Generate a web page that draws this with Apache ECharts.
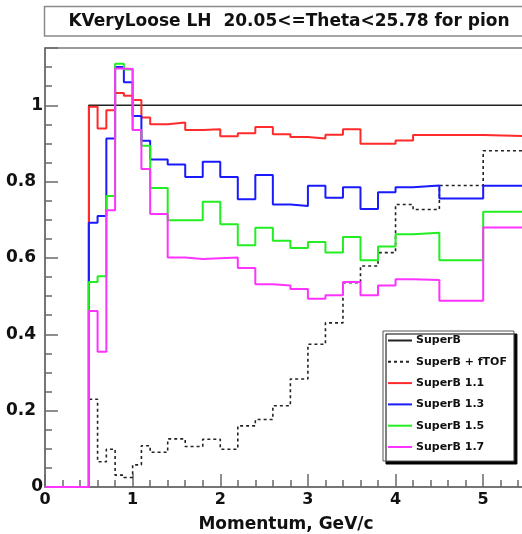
<!DOCTYPE html>
<html>
<head>
<meta charset="utf-8">
<script src="https://cdn.jsdelivr.net/npm/echarts@6/dist/echarts.min.js"></script>
<style>
  html, body { margin: 0; padding: 0; background: #fff; }
  #chart { width: 522px; height: 534px; }
</style>
</head>
<body>
<div id="chart"></div>
<script>
// Momentum bin edges (GeV/c); each series holds one efficiency value per bin
const binEdges = [0, 0.5, 0.6, 0.7, 0.8, 0.9, 1.0, 1.1, 1.2, 1.4, 1.6, 1.8, 2.0, 2.2, 2.4,
  2.6, 2.8, 3.0, 3.2, 3.4, 3.6, 3.8, 4.0, 4.2, 4.5, 5.0, 5.5];

const superB = [0, 1, 1, 1, 1, 1, 1, 1, 1, 1, 1, 1, 1, 1, 1, 1, 1, 1, 1, 1, 1, 1, 1, 1, 1, 1];
const superBfTOF = [0, 0.230, 0.066, 0.099, 0.031, 0.025, 0.058, 0.108, 0.091, 0.126, 0.106,
  0.125, 0.099, 0.160, 0.177, 0.213, 0.283, 0.374, 0.430, 0.535, 0.579, 0.614, 0.740, 0.727, 0.790, 0.881];
const superB11 = [0, 0.996, 0.939, 0.987, 1.032, 1.025, 1.014, 0.968, 0.950, 0.955, 0.935,
  0.937, 0.919, 0.927, 0.943, 0.924, 0.917, 0.913, 0.923, 0.937, 0.899, 0.899, 0.908, 0.922, 0.922, 0.919];
const superB13 = [0, 0.692, 0.710, 0.913, 1.100, 1.060, 0.972, 0.907, 0.858, 0.845, 0.812,
  0.852, 0.812, 0.754, 0.817, 0.740, 0.736, 0.789, 0.758, 0.785, 0.728, 0.772, 0.785, 0.790, 0.756, 0.789];
const superB15 = [0, 0.537, 0.552, 0.762, 1.109, 1.094, 0.935, 0.894, 0.783, 0.699, 0.699,
  0.747, 0.688, 0.633, 0.679, 0.645, 0.626, 0.642, 0.614, 0.655, 0.594, 0.630, 0.662, 0.666, 0.594, 0.721];
const superB17 = [0, 0.461, 0.354, 0.725, 1.096, 1.095, 0.935, 0.833, 0.715, 0.601, 0.597,
  0.599, 0.601, 0.574, 0.531, 0.528, 0.519, 0.493, 0.502, 0.537, 0.502, 0.528, 0.544, 0.542, 0.488, 0.680];

const seriesNames = ['SuperB', 'SuperB + fTOF', 'SuperB 1.1', 'SuperB 1.3', 'SuperB 1.5', 'SuperB 1.7'];
const titleText = 'KVeryLoose LH  20.05<=Theta<25.78 for pion';
const xAxisTitle = 'Momentum, GeV/c';

const FONT = 'DejaVu Sans';

// histogram outline: one point per bin low edge, plus the closing high edge
function histPoints(values) {
  const pts = values.map((v, i) => [binEdges[i], v]);
  pts.push([binEdges[binEdges.length - 1], values[values.length - 1]]);
  return pts;
}

function histSeries(name, values, color, width, type) {
  return {
    name: name,
    type: 'line',
    step: 'end',
    xAxisIndex: 0,
    yAxisIndex: 0,
    data: histPoints(values),
    symbol: 'none',
    silent: true,
    lineStyle: { color: color, width: width, type: type || 'solid' },
    itemStyle: { color: color }
  };
}

const chart = echarts.init(document.getElementById('chart'), null, { renderer: 'canvas' });

const axisLineStyle = { color: '#6a6a6a', width: 1.5 };

chart.setOption({
  animation: false,
  backgroundColor: '#ffffff',
  grid: {
    left: 45, top: 48, right: -5, bottom: 47,
    outerBoundsMode: 'none',
    containLabel: false,
    show: true, borderColor: '#7a7a7a', borderWidth: 1.5, backgroundColor: 'transparent'
  },
  graphic: [
    {
      type: 'rect', z: 10,
      shape: { x: 44.5, y: 6.5, width: 500, height: 29.5 },
      style: { fill: '#ffffff', stroke: '#8a8a8a', lineWidth: 1.5 }
    },
    {
      type: 'text', z: 11,
      x: 289, y: 21.5,
      style: {
        text: titleText, fill: '#111', font: 'bold 17px "' + FONT + '"',
        textAlign: 'center', textVerticalAlign: 'middle'
      }
    }
  ],
  legend: {
    data: seriesNames,
    orient: 'vertical',
    left: 383, top: 331,
    padding: [4, 7, 8.5, 4],
    itemWidth: 24, itemHeight: 10, itemGap: 10.3,
    backgroundColor: '#ffffff',
    borderColor: '#555', borderWidth: 1,
    shadowColor: '#000', shadowBlur: 0, shadowOffsetX: 3, shadowOffsetY: 3,
    itemStyle: { opacity: 0 },
    textStyle: { fontFamily: FONT, fontWeight: 'bold', fontSize: 11, color: '#111', padding: [0, 0, 0, -1] },
    selectedMode: false
  },
  xAxis: [
    {
      type: 'value', min: 0, max: 5.5, interval: 1,
      name: xAxisTitle, nameLocation: 'middle', nameGap: 29,
      nameTextStyle: { fontFamily: FONT, fontWeight: 'bold', fontSize: 17, color: '#111' },
      axisLine: { show: true, lineStyle: axisLineStyle },
      axisTick: { show: true, inside: true, length: 13, lineStyle: axisLineStyle },
      axisLabel: {
        fontFamily: FONT, fontWeight: 'bold', fontSize: 16, color: '#111', margin: 5,
        formatter: v => (Math.abs(v - Math.round(v)) < 1e-6 && v <= 5 ? String(Math.round(v)) : '')
      },
      splitLine: { show: false }
    },
    {
      // minor ticks every 0.2 GeV/c
      type: 'value', min: 0, max: 5.5, interval: 0.2, position: 'bottom',
      axisLine: { show: false },
      axisTick: { show: true, inside: true, length: 7, lineStyle: axisLineStyle },
      axisLabel: { show: false },
      splitLine: { show: false }
    }
  ],
  yAxis: [
    {
      type: 'value', min: 0, max: 1.15, interval: 0.2,
      axisLine: { show: true, lineStyle: axisLineStyle },
      axisTick: { show: true, inside: true, length: 13, lineStyle: axisLineStyle },
      axisLabel: {
        fontFamily: FONT, fontWeight: 'bold', fontSize: 17, color: '#111', margin: 2,
        formatter: v => {
          if (v > 1.0001) return '';
          const s = String(+v.toFixed(1));
          return s.indexOf('.') >= 0 ? '{dec|' + s + '}' : s;
        },
        rich: { dec: { fontFamily: FONT, fontWeight: 'bold', fontSize: 17, color: '#111', padding: [0, 7, 0, 0] } }
      },
      splitLine: { show: false }
    },
    {
      // minor ticks every 0.05
      type: 'value', min: 0, max: 1.15, interval: 0.05, position: 'left',
      axisLine: { show: false },
      axisTick: { show: true, inside: true, length: 7, lineStyle: axisLineStyle },
      axisLabel: { show: false },
      splitLine: { show: false }
    }
  ],
  series: [
    histSeries(seriesNames[0], superB, '#222222', 1.6, 'solid'),
    histSeries(seriesNames[1], superBfTOF, '#222222', 1.6, [3, 3]),
    histSeries(seriesNames[2], superB11, '#ff2a2a', 2, 'solid'),
    histSeries(seriesNames[3], superB13, '#1a1aff', 2, 'solid'),
    histSeries(seriesNames[4], superB15, '#22ee22', 2, 'solid'),
    histSeries(seriesNames[5], superB17, '#ff33ff', 2, 'solid')
  ]
});
</script>
</body>
</html>
